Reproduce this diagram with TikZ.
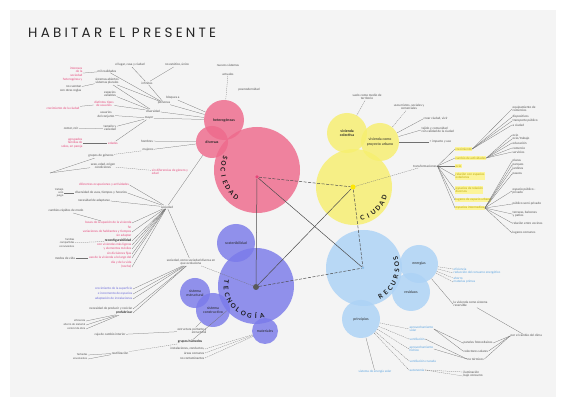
\documentclass[tikz,border=0pt]{standalone}
\usepackage{fontspec}
\newfontfamily\lf{Lato}
\newfontfamily\tf[LetterSpace=24]{Poppins}
\definecolor{panel}{HTML}{F4F4F4}
\definecolor{pinkc}{HTML}{EE6A8C}
\definecolor{yelc}{HTML}{F7EF6F}
\definecolor{bluec}{HTML}{ACD2F6}
\definecolor{purc}{HTML}{7B7BEA}
\definecolor{pinkt}{HTML}{E5477A}
\definecolor{purt}{HTML}{6A6AD8}
\definecolor{blut}{HTML}{5AA3E0}
\definecolor{yelt}{HTML}{B9A500}
\definecolor{yelh}{HTML}{FCF49A}
\definecolor{txt}{HTML}{505050}
\definecolor{ln}{HTML}{707070}
\tikzset{
 lb/.style={font=\lf\fontsize{3.1}{3.7}\selectfont, text=txt, inner sep=0.5pt},
 tiny/.style={lb,font=\lf\fontsize{2.7}{3.1}\selectfont},
 pk/.style={lb,text=pinkt},
 pu/.style={lb,text=purt},
 bu/.style={lb,text=blut},
 yw/.style={lb,text=yelt,fill=yelh,inner sep=0.5pt,align=left},
 bd/.style={lb,font=\lf\bfseries\fontsize{3.3}{3.8}\selectfont,text=black!85},
 inc/.style={font=\lf\fontsize{3.6}{4.1}\selectfont,text=black!85,align=center},
 bub/.style={circle,inner sep=0pt,fill opacity=0.82,text opacity=1},
 con/.style={draw=ln,line width=0.25pt},
 dcon/.style={con,dash pattern=on 1.2pt off 0.8pt},
 mainl/.style={draw=black!70,line width=0.5pt},
 dmain/.style={mainl,dash pattern=on 3pt off 1.5pt},
 big/.style={font=\lf\bfseries\fontsize{6.4}{6.4}\selectfont,text=black!90,inner sep=0pt},
 dot/.style={circle,inner sep=0pt},
}
\begin{document}
\begin{tikzpicture}[x=1pt,y=-1pt]
\useasboundingbox (0,0) rectangle (566,403);
\fill[white] (0,0) rectangle (566,403);
\fill[panel] (10,10) rectangle (556,397);

\node[anchor=west,font=\tf\fontsize{13.5}{13.5}\selectfont,text=black!85,inner sep=0] (title) at (28,33) {HABITAR EL PRESENTE};

% ---------- circles
\node[bub,fill=pinkc,minimum size=86pt] (socC) at (257,170) {};
\node[bub,fill=pinkc,minimum size=40pt,inc,font=\lf\bfseries\fontsize{3.6}{4.1}\selectfont] (hetC) at (224,120) {heterogéneas};
\node[bub,fill=pinkc,minimum size=32pt,inc,font=\lf\bfseries\fontsize{3.6}{4.1}\selectfont] (divC) at (212,142) {diversas};

\node[bub,fill=yelc,minimum size=76pt] (ciuC) at (354,187) {};
\node[bub,fill=yelc,minimum size=40pt,inc,font=\lf\bfseries\fontsize{3.6}{4.1}\selectfont] (vcC) at (347,133) {vivienda\\colectiva};
\node[bub,fill=yelc,minimum size=38pt,inc] (vpC) at (380,142) {vivienda como\\proyecto urbano};

\node[bub,fill=bluec,minimum size=76pt] (recC) at (364,268) {};
\node[bub,fill=bluec,minimum size=38pt,inc] (enC) at (419,264) {energías};
\node[bub,fill=bluec,minimum size=38pt,inc] (resC) at (411,292) {residuos};
\node[bub,fill=bluec,minimum size=38pt,inc] (priC) at (361,319) {principios};

\node[bub,fill=purc,minimum size=76pt] (tecC) at (256,286) {};
\node[bub,fill=purc,minimum size=38pt,inc] (sosC) at (236,243) {sostenibilidad};
\node[bub,fill=purc,minimum size=30pt,inc] (seC) at (195,293) {sistema\\estructural};
\node[bub,fill=purc,minimum size=34pt,inc] (scC) at (213,310) {sistema\\constructivo};
\node[bub,fill=purc,minimum size=26pt,inc] (matC) at (265,331) {materiales};

% ---------- centre dots
\node[dot,fill=pinkt,minimum size=3.5pt] (socD) at (257,177) {};
\node[dot,fill=yellow!90!orange,minimum size=5pt] (ciuD) at (353,187) {};
\node[dot,fill=blut!70,minimum size=2.5pt] (recD) at (363,268) {};
\node[dot,fill=black!65,minimum size=6pt] (tecD) at (256,287) {};

\draw[dmain] (socD) -- (ciuD);
\draw[mainl] (socD) -- (tecD);
\draw[mainl] (socD) -- (recD);
\draw[mainl] (tecD) -- (ciuD);
\draw[dmain] (ciuD) -- (recD);
\draw[dmain] (tecD) -- (recD);

% ---------- curved titles
\foreach \l [count=\i] in {S,O,C,I,E,D,A,D} {
  \pgfmathsetmacro\a{159+(\i-1)*10.4}
  \node[big,rotate=\a+90] (socL\i) at ([shift={(\a:34pt)}]socC.center) {\l};}
\foreach \l [count=\i] in {C,I,U,D,A,D} {
  \pgfmathsetmacro\a{-75+(\i-1)*11.2}
  \node[big,rotate=\a+90] (ciuL\i) at ([shift={(\a:32pt)}]ciuC.center) {\l};}
\foreach \l [count=\i] in {R,E,C,U,R,S,O,S} {
  \pgfmathsetmacro\a{-60+(\i-1)*11}
  \node[big,rotate=\a+90] (recL\i) at ([shift={(\a:33pt)}]recC.center) {\l};}
\foreach \l [count=\i] in {T,E,C,N,O,L,O,G,Í,A} {
  \pgfmathsetmacro\a{172+(\i-1)*12.2}
  \node[big,rotate=\a+90] (tecL\i) at ([shift={(\a:30pt)}]tecC.center) {\l};}

% ---------- SOCIEDAD labels
\node[lb] (nuevos) at (228,65) {nuevos sistemas};
\node[lb] (actuales) at (228,74) {actuales};
\node[lb] (posmo) at (249,90) {posmodernidad};
\node[lb] (lugar) at (130,65) {el lugar, casa y ciudad};
\node[lb] (noest) at (177,65) {no estático, único};
\node[lb] (milr) at (107,71) {mil realidades};
\node[lb] (infin) at (147,83) {infinitas};
\node[pk,align=right,anchor=east] (inter) at (83,74) {intereses\\de la\\sociedad\\heterogénea y};
\node[lb,align=center] (sisab) at (107,81) {sistemas abiertos\\sistemas plurales};
\node[lb,align=right,anchor=east] (nocu) at (82,89) {no cuentan\\con otras reglas};
\node[lb,align=center] (espv) at (110,94) {espacios\\variables};
\node[lb] (bloq) at (173,98) {bloques a};
\node[lb] (pers) at (164,103) {personas};
\node[pk,align=center] (dist) at (104,104) {distintos tipos\\de usuarios};
\node[pk] (crec) at (63,108) {crecimiento de la ciudad};
\node[lb] (diver) at (153,111) {diversidad};
\node[lb,align=center] (usu) at (106,115) {usuarios\\del conjunto};
\node[lb] (mayor) at (149,118) {mayor};
\node[lb,align=center] (tam) at (110,128) {tamaño y\\variedad};
\node[lb] (comer) at (71,129) {comer, reír};
\node[pk,align=right,anchor=east] (ejem) at (83,143) {agrupados\\familias de\\solos, en pareja};
\node[pk] (edad) at (113,143) {edades};
\node[lb] (homb) at (147,141) {hombres};
\node[lb] (muj) at (148,150) {mujeres};
\node[lb] (grup) at (101,156) {grupos de géneros};
\node[lb,align=center] (sexo) at (103,166) {sexo, edad, origen\\condiciones};
\node[pk,align=left] (sind) at (170,172) {sin diferencias de género y\\edad};
\coordinate (L1) at (50,173);
\node[pk] (ocup) at (104,185) {diferentes ocupaciones y actividades};
\node[tiny,align=right,anchor=east] (trab) at (64,193) {trabajo\\ocio\\juego};
\node[lb] (usos) at (101,193) {diversidad de usos, tiempos y horarios};
\node[lb] (nece) at (94,201) {necesidad de adaptarse};
\node[lb] (sochub) at (167,207) {sociedad};
\node[lb] (camb) at (66,211) {cambios rápidos de modo};
\node[pk,anchor=east] (p1) at (132,223) {bases de ocupación de la vivienda};
\node[pk,anchor=east] (p2) at (132,227) {fin};
\node[pk,anchor=east] (p3) at (132,232) {variaciones de habitantes y tiempos};
\node[pk,anchor=east] (p4) at (132,236) {sin adaptar};
\node[bd,anchor=east] (reconf) at (132,241) {reconfigurabilidad};
\node[pk,anchor=east] (p5) at (132,245) {con viviendas más ligeras};
\node[pk,anchor=east] (p6) at (132,249) {y elementos móviles};
\node[pk,anchor=east] (p7) at (132,254) {sin divisiones fijas};
\node[pk,anchor=east] (p8) at (132,258) {uso de la vivienda a lo largo del};
\node[pk,anchor=east] (p9) at (132,263) {día y de la vida};
\node[pk,anchor=east] (p10) at (132,267) {(noche)};
\node[tiny,align=right,anchor=east] (fam) at (75,243) {familias\\compartidas\\convivientes};
\node[lb] (modos) at (65,258) {modos de vida};
\node[lb,align=center] (socev) at (191,262) {sociedad, como sociedad diversa en\\que evoluciona};

\draw[dcon] (actuales) -- (hetC);
\draw[con] (lugar) -- (infin);
\draw[con] (noest) -- (infin);
\foreach \n in {bloq,pers,diver,mayor} \draw[con] (hetC) -- (\n);
\draw[con] (infin) -- (pers);
\draw[con] (milr) -- (pers);
\draw[con] (sisab) -- (pers);
\draw[con] (sisab) -- (diver);
\draw[con] (espv) -- (diver);
\draw[con] (dist) -- (diver);
\draw[con] (usu) -- (mayor);
\draw[con] (tam) -- (mayor);
\draw[con] (edad) -- (mayor);
\draw[con] (inter) -- (milr);
\draw[con] (nocu) -- (sisab);
\draw[con] (crec) -- (dist);
\draw[con] (comer) -- (tam);
\draw[con] (ejem) -- (edad);
\draw[con] (homb) -- (divC);
\draw[con] (muj) -- (divC);
\draw[dcon] (grup) -- (muj);
\draw[dcon] (sexo) -- (sind);
\draw[con] (L1) -- (grup);
\draw[con] (L1) -- (sexo);
\draw[con] (sochub) -- (divC);
\foreach \n in {ocup,usos,nece,p1,p3,reconf,p5,p6,p7,p8,p10} \draw[con] (sochub) -- (\n.east);
\draw[con] (trab) -- (usos);
\draw[con] (camb) -- (p1);
\draw[dcon] (fam) -- (reconf);
\draw[con] (modos) -- (p8);
\draw[con] (sochub) -- (socev);

% ---------- TECNOLOGIA labels
\node[pu,anchor=east] (pu1) at (133,289) {crecimiento de la superficie};
\node[pu,anchor=east] (pu2) at (133,294) {e incremento de espacios};
\node[pu,anchor=east] (pu3) at (133,299) {adaptación de instalaciones};
\node[lb,anchor=east] (nec) at (133,309) {necesidad de producir y reciclar};
\node[bd,anchor=east] (pref) at (133,313) {prefabricar};
\node[tiny,anchor=east] (sb1) at (86,321) {eficiencia};
\node[tiny,anchor=east] (sb2) at (86,325) {ahorro de material};
\node[tiny,anchor=east] (sb3) at (86,329) {control de obra};
\node[lb] (caja) at (110,335) {caja de cambio interior};
\node[lb,align=right] (estr) at (192,331) {estructura portante y\\estructural};
\node[bd] (humed) at (190,342) {grupos húmedos};
\node[lb,anchor=east] (in1) at (205,349) {instalaciones, conductos,};
\node[lb,anchor=east] (in2) at (205,353) {áreas comunes};
\node[lb,anchor=east] (in3) at (205,358) {no contaminantes};
\node[lb] (reut) at (120,353) {reutilización};
\node[tiny,anchor=east] (f1) at (88,355) {fachadas};
\node[tiny,anchor=east] (f2) at (88,359) {envolventes};

\draw[dcon] (socev) -- (tecD);
\foreach \n in {pu1,pu2,pu3,nec,pref} \draw[con] (socev) -- (\n.east);
\foreach \n in {sb1,sb2,sb3} \draw[con] (\n.east) -- (pref);
\draw[con] (estr) -- (scC);
\draw[con] (estr) -- (caja);
\draw[con] (humed) -- (tecC);
\draw[dcon] (humed) -- (reut);
\foreach \n in {in1,in2,in3} \draw[dcon] (\n.east) -- (matC);
\foreach \n in {f1,f2} \draw[con] (\n.east) -- (reut);

% ---------- CIUDAD labels
\node[lb,align=center] (suelo) at (367,97) {suelo como medio de\\territorio};
\node[lb,align=center] (usosm) at (409,107) {usos mixtos, sociales y\\comerciales};
\node[lb,anchor=west] (crear) at (423,119) {crear ciudad, vivir};
\node[lb,anchor=west,align=left] (tejido) at (421,130) {tejido y comunidad\\con calidad de la ciudad};
\node[lb,anchor=west] (impac) at (429,142) {+ impacto y uso};
\node[lb] (transf) at (425,166) {transformaciones};
\node[yw,anchor=west] (y1) at (455,149) {crecimiento};
\node[yw,anchor=west] (y2) at (455,158) {cambio de actividades};
\node[yw,anchor=west] (y3) at (455,166) {ocio};
\node[yw,anchor=west] (y4) at (455,176) {relación con espacios\\exteriores};
\node[yw,anchor=west] (y5) at (455,190) {espacios de relación\\diversos};
\node[yw,anchor=west] (y6) at (455,200) {lugares de espacio urbano};
\node[yw,anchor=west] (y7) at (455,208) {espacios intermedios};
\node[lb,anchor=west,align=left] (r1) at (512,109) {equipamiento de\\comercios};
\node[lb,anchor=west] (r2) at (512,117) {dispositivos};
\node[lb,anchor=west] (r3) at (512,121) {transporte público};
\node[lb,anchor=west] (r4) at (512,125) {a ciudad};
\node[lb,anchor=west] (r5) at (512,135) {ocio};
\node[lb,anchor=west] (r6) at (512,139) {ocio/trabajo};
\node[lb,anchor=west] (r7) at (512,143) {educación};
\node[lb,anchor=west] (r8) at (512,148) {comercio};
\node[lb,anchor=west] (r9) at (512,152) {servicios};
\node[lb,anchor=west] (r10) at (512,161) {plazas};
\node[lb,anchor=west] (r11) at (512,165) {parques};
\node[lb,anchor=west] (r12) at (512,169) {jardines};
\node[lb,anchor=west] (r13) at (512,174) {paseos};
\node[lb,anchor=west,align=left] (r14) at (512,191) {espacio público -\\privado};
\node[lb,anchor=west] (r15) at (512,204) {público semi-privado};
\node[lb,anchor=west,align=left] (r16) at (512,214) {terrazas, balcones\\y patios};
\node[lb,anchor=west] (r17) at (512,223) {relación entre vecinos};
\node[lb,anchor=west] (r18) at (512,233) {lugares comunes};

\draw[dcon] (suelo) -- (vcC);
\draw[dcon] (usosm) -- (vpC);
\foreach \n in {crear,tejido,impac} \draw[con] (\n.west) -- (vpC);
\draw[dcon] (ciuD) -- (transf);
\foreach \n in {y1,y2,y3,y4,y5,y6,y7} \draw[con] (transf.east) -- (\n.west);
\foreach \n in {r1,r2,r3,r4} \draw[con] (y1.east) -- (\n.west);
\foreach \n in {r5,r6,r7,r8,r9} \draw[con] (y2.east) -- (\n.west);
\foreach \n in {r10,r11,r12,r13,r14,r15,r16,r17,r18} \draw[con] (y7.east) -- (\n.west);

% ---------- RECURSOS labels
\node[bu,anchor=west] (e1) at (453,269) {eficiencia};
\node[bu,anchor=west] (e2) at (453,273) {reducción del consumo energético};
\node[bu,anchor=west] (e3) at (453,278) {ahorro};
\node[bu,anchor=west] (e4) at (453,282) {materias primas};
\node[lb,anchor=west,align=left] (rev) at (453,304) {la vivienda como sistema\\reversible};
\node[lb,anchor=west] (clima) at (510,336) {por el cambio del clima};
\node[bu,anchor=west,align=left] (b1) at (409,329) {aprovechamiento\\solar};
\node[bu,anchor=west] (b2) at (409,339) {ventilación};
\node[bu,anchor=west,align=left] (b3) at (409,349) {aprovechamiento\\hídrico};
\node[bu,anchor=west] (b4) at (409,361) {ventilación cruzada};
\node[bu,anchor=west] (b5) at (409,370) {autonomía};
\node[lb,anchor=west] (pan) at (463,343) {paneles fotovoltaicos};
\node[lb,anchor=west] (col) at (463,351) {colectores solares};
\node[lb,anchor=west] (nter) at (467,359) {no térmicos};
\node[lb,anchor=west] (ais) at (463,372) {iluminación};
\node[lb,anchor=west] (bajo) at (463,376) {bajo consumo};
\node[bu] (solar) at (375,372) {sistema de energía solar};

\foreach \n in {e1,e2,e3,e4} \draw[dcon] (enC) -- (\n.west);
\draw[con] (enC) -- (rev.west);
\draw[con] (rev) -- (clima);
\foreach \n in {b1,b2,b3,b4,b5} \draw[dcon] (priC) -- (\n.west);
\draw[con] (priC) -- (solar);
\draw[con] (b1.east) -- (pan.west);
\draw[con] (b1.east) -- (col.west);
\draw[con] (b2.east) -- (nter.west);
\draw[con] (b3.east) -- (nter.west);
\foreach \n in {pan,col,nter} \draw[con] (clima.west) -- (\n.east);
\draw[dcon] (b5.east) -- (ais.west);
\draw[dcon] (b5.east) -- (bajo.west);
\end{tikzpicture}
\end{document}
